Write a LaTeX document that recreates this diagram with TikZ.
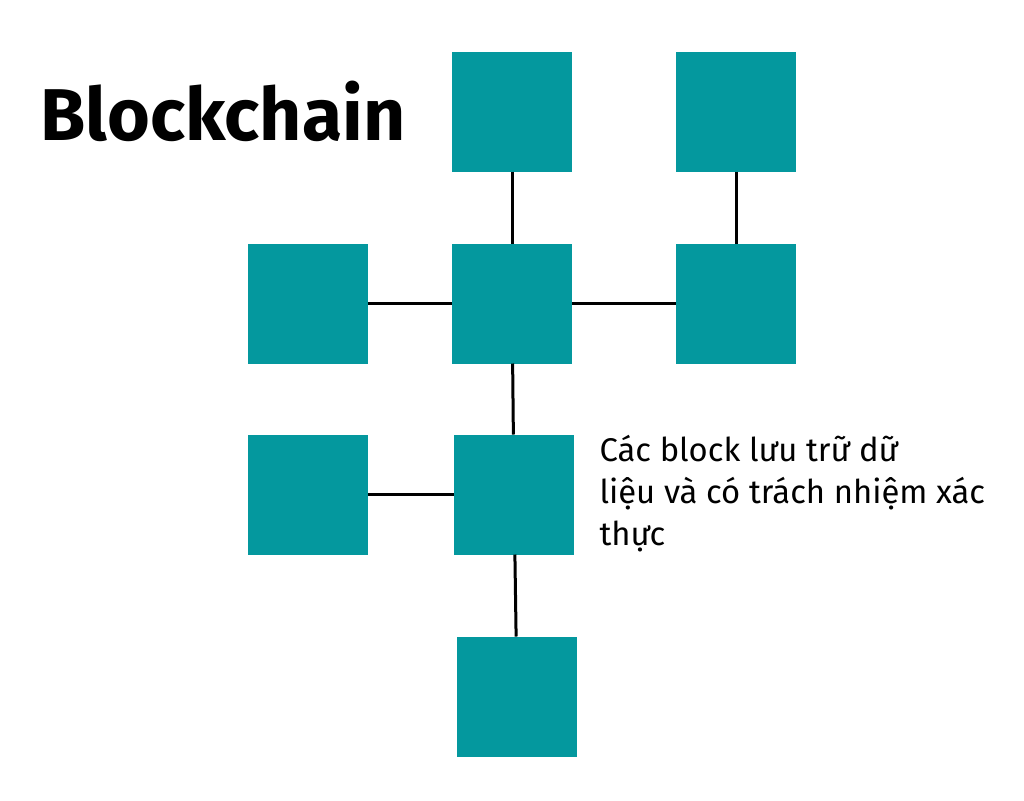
\documentclass[tikz,border=0pt]{standalone}
\usepackage{fontspec}
\setmainfont{Fira Sans}
\usetikzlibrary{positioning}
\definecolor{blockteal}{HTML}{04989E}

\begin{document}
\begin{tikzpicture}
[-,line width=2.25pt,x=0.75pt,y=-0.75pt]\tikzstyle{block}
=[fill=blockteal,draw=none,minimum size=90pt,inner sep=0pt,outer sep=0pt]
\useasboundingbox (0,0) rectangle (1024,800);
\node[block] (4) at (512,303.5) {};
\node[block] (1) [above of=4, node distance=144pt] {};
\node[block] (2) [right of=1, node distance=168pt] {};
\node[block] (5) [right of=4, node distance=168pt] {};
\node[block] (3) [left of=4, node distance=153pt] {};
\node[block] (7) [below of=4, node distance=143.25pt, xshift=1.5pt] {};
\node[block] (6) [left of=7, node distance=154.5pt] {};
\node[block] (8) [below of=7, node distance=151.5pt, xshift=2.25pt] {};

\node (title) [anchor=base west, inner sep=0pt, font=\fontsize{55}{66}\selectfont\bfseries] at (39,140) {Blockchain};
\node (note) [anchor=north west, align=left, inner sep=0pt, font=\fontsize{24.6}{31.5}\selectfont] at (598,434)
  {Các block lưu trữ dữ\\liệu và có trách nhiệm xác\\thực};

\path
(1) edge (4)
(2) edge (5)
(3) edge (4)
(4) edge (5)
(4) edge (7)
(6) edge (7)
(7) edge (8)
;\end{tikzpicture}
\end{document}
